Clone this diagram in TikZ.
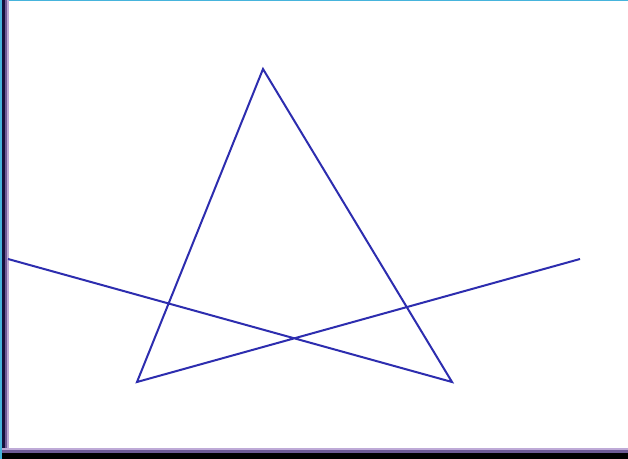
\documentclass[tikz,border=0pt]{standalone}
\definecolor{linec}{RGB}{45,45,175}
\definecolor{cyanb}{RGB}{70,180,220}
\definecolor{navyb}{RGB}{20,15,60}
\definecolor{purpb}{RGB}{110,90,150}
\definecolor{lpurp}{RGB}{190,170,215}
\begin{document}
\begin{tikzpicture}[x=0.75pt,y=-0.75pt,
  poly/.style={draw=linec,line width=1.5pt,line join=miter}]
\useasboundingbox (0,0) rectangle (628,459);
\fill[white] (0,0) rectangle (628,459);
% borders
\fill[cyanb] (0,0) rectangle (628,1.5);
\fill[cyanb] (0,0) rectangle (2,459);
\fill[navyb] (2,0) rectangle (5,459);
\fill[purpb] (5,0) rectangle (7,459);
\fill[lpurp] (7,0) rectangle (9,459);
\fill[lpurp] (2,448) rectangle (628,450);
\fill[purpb] (2,450) rectangle (628,452.5);
\fill[black] (2,452.5) rectangle (628,459);
% polyline
\coordinate (s) at (8,259);
\coordinate (br) at (452,382);
\coordinate (t) at (263,69);
\coordinate (bl) at (137,382);
\coordinate (e) at (580,259);
\draw[poly] (s) -- (br) -- (t) -- (bl) -- (e);
\end{tikzpicture}
\end{document}
